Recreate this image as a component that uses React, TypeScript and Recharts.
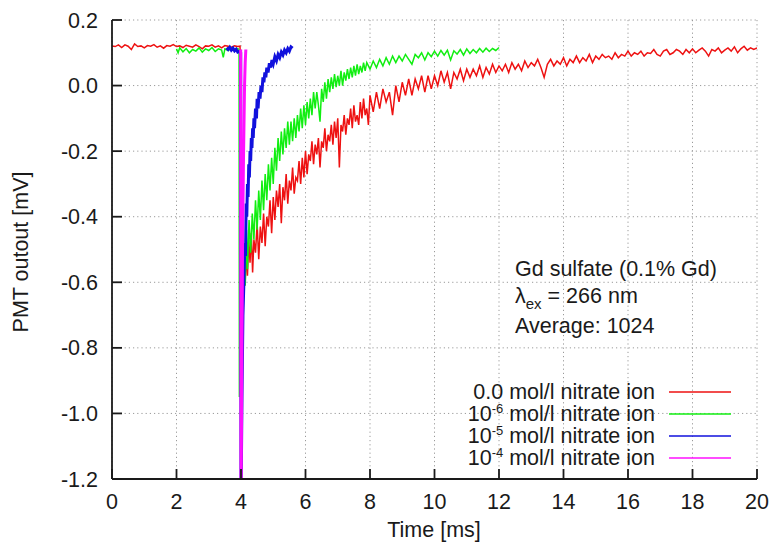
import { CartesianGrid, Line, LineChart, XAxis, YAxis } from 'recharts';

// time [ms], PMT output [mV]
const trace0 = [
  [0, 0.121], [0.1, 0.119], [0.2, 0.124], [0.3, 0.116], [0.4, 0.124], [0.5, 0.12], [0.6, 0.11], [0.7, 0.127],
  [0.8, 0.119], [0.9, 0.121], [1.0, 0.115], [1.1, 0.122], [1.2, 0.12], [1.3, 0.125], [1.4, 0.117], [1.5, 0.121],
  [1.6, 0.114], [1.7, 0.122], [1.8, 0.12], [1.9, 0.125], [2.0, 0.119], [2.1, 0.121], [2.2, 0.116], [2.3, 0.123],
  [2.4, 0.12], [2.5, 0.117], [2.6, 0.124], [2.7, 0.119], [2.8, 0.112], [2.9, 0.121], [3.0, 0.12], [3.1, 0.124],
  [3.2, 0.117], [3.3, 0.121], [3.4, 0.115], [3.5, 0.122], [3.6, 0.12], [3.7, 0.117], [3.8, 0.121], [3.9, 0.119],
  [3.97, 0.12], [4.0, -0.3], [4.04, -0.62], [4.07, -0.64], [4.1, -0.55], [4.13, -0.61], [4.16, -0.5], [4.2, -0.58],
  [4.24, -0.47], [4.28, -0.54], [4.32, -0.45], [4.36, -0.57], [4.4, -0.47], [4.45, -0.51], [4.5, -0.42], [4.55, -0.53],
  [4.6, -0.43], [4.65, -0.48], [4.7, -0.39], [4.75, -0.49], [4.8, -0.4], [4.85, -0.43], [4.9, -0.35], [4.95, -0.45],
  [5.0, -0.34], [5.05, -0.41], [5.1, -0.32], [5.15, -0.37], [5.2, -0.3], [5.25, -0.42], [5.3, -0.31], [5.35, -0.35],
  [5.4, -0.27], [5.45, -0.36], [5.5, -0.29], [5.55, -0.32], [5.6, -0.25], [5.65, -0.33], [5.7, -0.28], [5.75, -0.29],
  [5.8, -0.23], [5.85, -0.3], [5.9, -0.22], [5.95, -0.28], [6.0, -0.2], [6.05, -0.27], [6.1, -0.21], [6.15, -0.23],
  [6.2, -0.17], [6.25, -0.24], [6.3, -0.18], [6.35, -0.21], [6.4, -0.16], [6.45, -0.25], [6.5, -0.17], [6.55, -0.19],
  [6.6, -0.13], [6.65, -0.2], [6.7, -0.15], [6.75, -0.17], [6.8, -0.12], [6.85, -0.18], [6.9, -0.11], [6.95, -0.16],
  [7.0, -0.1], [7.05, -0.25], [7.1, -0.12], [7.15, -0.14], [7.2, -0.09], [7.25, -0.15], [7.3, -0.1], [7.35, -0.12],
  [7.4, -0.07], [7.45, -0.13], [7.5, -0.06], [7.55, -0.11], [7.6, -0.09], [7.65, -0.12], [7.7, -0.05], [7.75, -0.1],
  [7.8, -0.04], [7.85, -0.09], [7.9, -0.07], [7.95, -0.12], [8.0, -0.03], [8.1, -0.08], [8.2, -0.02], [8.3, -0.07],
  [8.4, -0.01], [8.5, -0.05], [8.6, -0.02], [8.7, -0.09], [8.8, 0.0], [8.9, -0.05], [9.0, 0.01], [9.1, -0.03],
  [9.2, 0.02], [9.3, -0.03], [9.4, 0.02], [9.5, -0.01], [9.6, 0.03], [9.7, -0.02], [9.8, 0.03], [9.9, -0.01],
  [10.0, 0.03], [10.1, 0.0], [10.2, 0.045], [10.3, 0.01], [10.4, 0.04], [10.5, -0.01], [10.6, 0.04], [10.7, 0.02],
  [10.8, 0.05], [10.9, 0.015], [11.0, 0.05], [11.1, 0.025], [11.2, 0.05], [11.3, 0.03], [11.4, 0.06], [11.5, 0.025],
  [11.6, 0.055], [11.7, 0.035], [11.8, 0.065], [11.9, 0.04], [12.0, 0.06], [12.1, 0.045], [12.2, 0.065], [12.3, 0.04],
  [12.4, 0.07], [12.5, 0.05], [12.6, 0.065], [12.7, 0.045], [12.8, 0.075], [12.9, 0.055], [13.0, 0.07], [13.1, 0.06],
  [13.2, 0.08], [13.3, 0.055], [13.4, 0.025], [13.5, 0.065], [13.6, 0.08], [13.7, 0.06], [13.8, 0.075], [13.9, 0.065],
  [14.0, 0.085], [14.1, 0.06], [14.2, 0.08], [14.3, 0.07], [14.4, 0.09], [14.5, 0.07], [14.6, 0.085], [14.7, 0.075],
  [14.8, 0.095], [14.9, 0.07], [15.0, 0.09], [15.1, 0.08], [15.2, 0.095], [15.3, 0.085], [15.4, 0.09], [15.5, 0.08],
  [15.6, 0.1], [15.7, 0.085], [15.8, 0.095], [15.9, 0.09], [16.0, 0.105], [16.1, 0.09], [16.2, 0.1], [16.3, 0.095],
  [16.4, 0.105], [16.5, 0.09], [16.6, 0.1], [16.7, 0.098], [16.8, 0.11], [16.9, 0.095], [17.0, 0.09], [17.1, 0.105],
  [17.2, 0.11], [17.3, 0.095], [17.4, 0.1], [17.5, 0.11], [17.6, 0.105], [17.7, 0.095], [17.8, 0.11], [17.9, 0.1],
  [18.0, 0.112], [18.1, 0.1], [18.2, 0.108], [18.3, 0.115], [18.4, 0.105], [18.5, 0.09], [18.6, 0.11], [18.7, 0.105],
  [18.8, 0.115], [18.9, 0.1], [19.0, 0.108], [19.1, 0.115], [19.2, 0.105], [19.3, 0.118], [19.4, 0.1], [19.5, 0.112],
  [19.6, 0.12], [19.7, 0.108], [19.8, 0.115], [19.9, 0.11], [20.0, 0.115],
];

const trace6 = [
  [2.0, 0.112], [2.05, 0.1], [2.1, 0.115], [2.2, 0.103], [2.3, 0.113], [2.4, 0.1], [2.5, 0.11], [2.6, 0.105],
  [2.7, 0.115], [2.8, 0.102], [2.9, 0.112], [3.0, 0.107], [3.1, 0.116], [3.2, 0.104], [3.3, 0.112], [3.4, 0.108],
  [3.45, 0.086], [3.5, 0.112], [3.6, 0.107], [3.7, 0.115], [3.8, 0.11], [3.9, 0.113], [3.94, 0.11], [3.95, -0.95],
  [3.98, -0.75], [4.05, -0.62], [4.1, -0.5], [4.13, -0.61], [4.17, -0.44], [4.2, -0.56], [4.25, -0.41], [4.3, -0.51],
  [4.35, -0.39], [4.4, -0.47], [4.45, -0.35], [4.5, -0.44], [4.55, -0.32], [4.6, -0.41], [4.65, -0.29], [4.7, -0.38],
  [4.75, -0.27], [4.8, -0.35], [4.85, -0.24], [4.9, -0.32], [4.95, -0.22], [5.0, -0.3], [5.05, -0.19], [5.1, -0.26],
  [5.15, -0.16], [5.2, -0.23], [5.25, -0.14], [5.3, -0.21], [5.35, -0.13], [5.4, -0.19], [5.45, -0.11], [5.5, -0.18],
  [5.55, -0.11], [5.6, -0.17], [5.65, -0.1], [5.7, -0.16], [5.75, -0.09], [5.8, -0.14], [5.85, -0.07], [5.9, -0.13],
  [5.95, -0.06], [6.0, -0.12], [6.05, -0.05], [6.1, -0.1], [6.15, -0.04], [6.2, -0.09], [6.25, -0.02], [6.3, -0.07],
  [6.35, -0.02], [6.4, -0.06], [6.45, -0.11], [6.5, -0.01], [6.55, -0.05], [6.6, 0.01], [6.65, -0.04], [6.7, 0.02],
  [6.75, -0.02], [6.8, 0.025], [6.85, -0.01], [6.9, 0.035], [6.95, -0.005], [7.0, 0.03], [7.05, 0.0], [7.1, 0.045],
  [7.15, 0.0], [7.2, 0.04], [7.25, 0.015], [7.3, 0.05], [7.35, 0.02], [7.4, 0.055], [7.45, 0.025], [7.5, 0.06],
  [7.55, 0.03], [7.6, 0.065], [7.65, 0.035], [7.7, 0.06], [7.75, 0.04], [7.8, 0.07], [7.85, 0.045], [7.9, 0.07],
  [8.0, 0.05], [8.1, 0.075], [8.2, 0.055], [8.3, 0.08], [8.4, 0.06], [8.5, 0.085], [8.6, 0.065], [8.7, 0.09],
  [8.8, 0.07], [8.9, 0.09], [9.0, 0.075], [9.1, 0.095], [9.2, 0.08], [9.3, 0.065], [9.4, 0.095], [9.5, 0.085],
  [9.6, 0.1], [9.7, 0.078], [9.8, 0.1], [9.9, 0.088], [10.0, 0.105], [10.1, 0.09], [10.2, 0.107], [10.3, 0.093],
  [10.4, 0.108], [10.5, 0.078], [10.6, 0.106], [10.7, 0.096], [10.8, 0.11], [10.9, 0.093], [11.0, 0.112], [11.1, 0.098],
  [11.2, 0.11], [11.3, 0.1], [11.4, 0.113], [11.5, 0.102], [11.6, 0.114], [11.7, 0.104], [11.8, 0.113], [11.9, 0.107],
  [12.0, 0.116],
];

const trace5 = [
  [3.55, 0.115], [3.6, 0.11], [3.65, 0.117], [3.7, 0.108], [3.75, 0.114], [3.8, 0.106], [3.85, 0.111], [3.9, 0.102],
  [3.95, 0.104], [3.99, 0.1], [4.0, -1.3], [4.03, -0.95], [4.06, -0.7], [4.09, -0.6], [4.12, -0.48], [4.14, -0.52],
  [4.16, -0.36], [4.18, -0.4], [4.2, -0.3], [4.22, -0.34], [4.24, -0.24], [4.26, -0.28], [4.28, -0.2], [4.3, -0.23],
  [4.32, -0.16], [4.34, -0.19], [4.36, -0.13], [4.38, -0.16], [4.4, -0.1], [4.42, -0.13], [4.45, -0.07], [4.48, -0.1],
  [4.5, -0.04], [4.53, -0.07], [4.56, -0.02], [4.59, -0.04], [4.62, 0.0], [4.65, -0.02], [4.68, 0.025], [4.71, 0.01],
  [4.74, 0.04], [4.77, 0.025], [4.8, 0.055], [4.84, 0.04], [4.88, 0.068], [4.92, 0.055], [4.96, 0.078], [5.0, 0.066],
  [5.05, 0.088], [5.1, 0.076], [5.15, 0.095], [5.2, 0.085], [5.25, 0.102], [5.3, 0.093], [5.35, 0.108], [5.4, 0.1],
  [5.45, 0.113], [5.5, 0.105], [5.55, 0.118], [5.6, 0.114],
];

const trace4 = [
  [3.99, 0.11], [4.0, -1.3], [4.03, -0.8], [4.05, -0.45], [4.08, -0.2], [4.11, 0.0], [4.13, 0.07], [4.15, 0.11],
];

const xTicks = [0, 2, 4, 6, 8, 10, 12, 14, 16, 18, 20];
const yTicks = [-1.2, -1.0, -0.8, -0.6, -0.4, -0.2, 0.0, 0.2];

const series = [
  { key: 'n0', label: '0.0', exp: '', rows: trace0, color: '#ee1111', width: 1.5 },
  { key: 'n6', label: '10', exp: '-6', rows: trace6, color: '#11ee11', width: 1.5 },
  { key: 'n5', label: '10', exp: '-5', rows: trace5, color: '#1111dd', width: 3 },
  { key: 'n4', label: '10', exp: '-4', rows: trace4, color: '#ff11ff', width: 3 },
];

const notes = ['Gd sulfate (0.1% Gd)', 'Average: 1024'];

const font = '"Liberation Sans", Arial, sans-serif';
const ink = '#1a1a1a';
const fs = 21.5;

export default function App() {
  return (
    <div style={{ position: 'absolute', left: 0, top: 0, width: 772, height: 546, background: '#fff', fontFamily: font }}>
      <LineChart width={772} height={546} margin={{ top: 20, right: 15, bottom: 0, left: 0 }}>
        <CartesianGrid stroke="#9a9a9a" strokeDasharray="1.2 3" />
        <XAxis
          type="number"
          dataKey="t"
          domain={[0, 20]}
          ticks={xTicks}
          allowDataOverflow
          height={67}
          stroke={ink}
          strokeWidth={1.8}
          tickSize={-10}
          tickMargin={25}
          tick={{ fontSize: fs, fill: ink, fontFamily: font }}
        />
        <XAxis
          xAxisId="top"
          orientation="top"
          type="number"
          dataKey="t"
          domain={[0, 20]}
          ticks={xTicks}
          allowDataOverflow
          height={0}
          stroke={ink}
          strokeWidth={1.8}
          tickSize={-10}
          tick={false}
        />
        <YAxis
          type="number"
          domain={[-1.2, 0.2]}
          ticks={yTicks}
          allowDataOverflow
          width={112}
          stroke={ink}
          strokeWidth={1.8}
          tickSize={-10}
          tickMargin={24}
          tickFormatter={(v: number) => v.toFixed(1)}
          tick={{ fontSize: fs, fill: ink, fontFamily: font }}
        />
        <YAxis
          yAxisId="right"
          orientation="right"
          type="number"
          domain={[-1.2, 0.2]}
          ticks={yTicks}
          allowDataOverflow
          width={0}
          stroke={ink}
          strokeWidth={1.8}
          tickSize={-10}
          tick={false}
        />
        {series.map((s) => (
          <Line
            key={s.key}
            data={s.rows.map(([t, v]) => ({ t, v }))}
            dataKey="v"
            type="linear"
            stroke={s.color}
            strokeWidth={s.width}
            dot={false}
            isAnimationActive={false}
          />
        ))}
      </LineChart>

      <svg
        width={772}
        height={546}
        style={{ position: 'absolute', left: 0, top: 0, pointerEvents: 'none' }}
        fontFamily={font}
        fill={ink}
      >
        <text x={434} y={531} fontSize={fs} textAnchor="middle" dominantBaseline="middle">
          Time [ms]
        </text>
        <text
          x={22}
          y={252}
          fontSize={fs}
          textAnchor="middle"
          dominantBaseline="middle"
          transform="rotate(-90 22 252)"
        >
          PMT outout [mV]
        </text>

        <text x={515} y={276} fontSize={fs}>{notes[0]}</text>
        <text x={515} y={303} fontSize={fs}>
          λ<tspan fontSize={15} dy={6}>ex</tspan>
          <tspan dy={-6}> = 266 nm</tspan>
        </text>
        <text x={515} y={333} fontSize={fs}>{notes[1]}</text>

        {series.map((s, i) => {
          const y = 392 + i * 22;
          return (
            <g key={s.key}>
              <text x={655} y={y + 7} fontSize={fs} textAnchor="end">
                {s.label}
                {s.exp && (
                  <tspan fontSize={13} dy={-8}>
                    {s.exp}
                  </tspan>
                )}
                <tspan dy={s.exp ? 8 : 0}> mol/l nitrate ion</tspan>
              </text>
              <line x1={669} x2={731} y1={y} y2={y} stroke={s.color} strokeWidth={1.5} />
            </g>
          );
        })}
      </svg>
    </div>
  );
}
